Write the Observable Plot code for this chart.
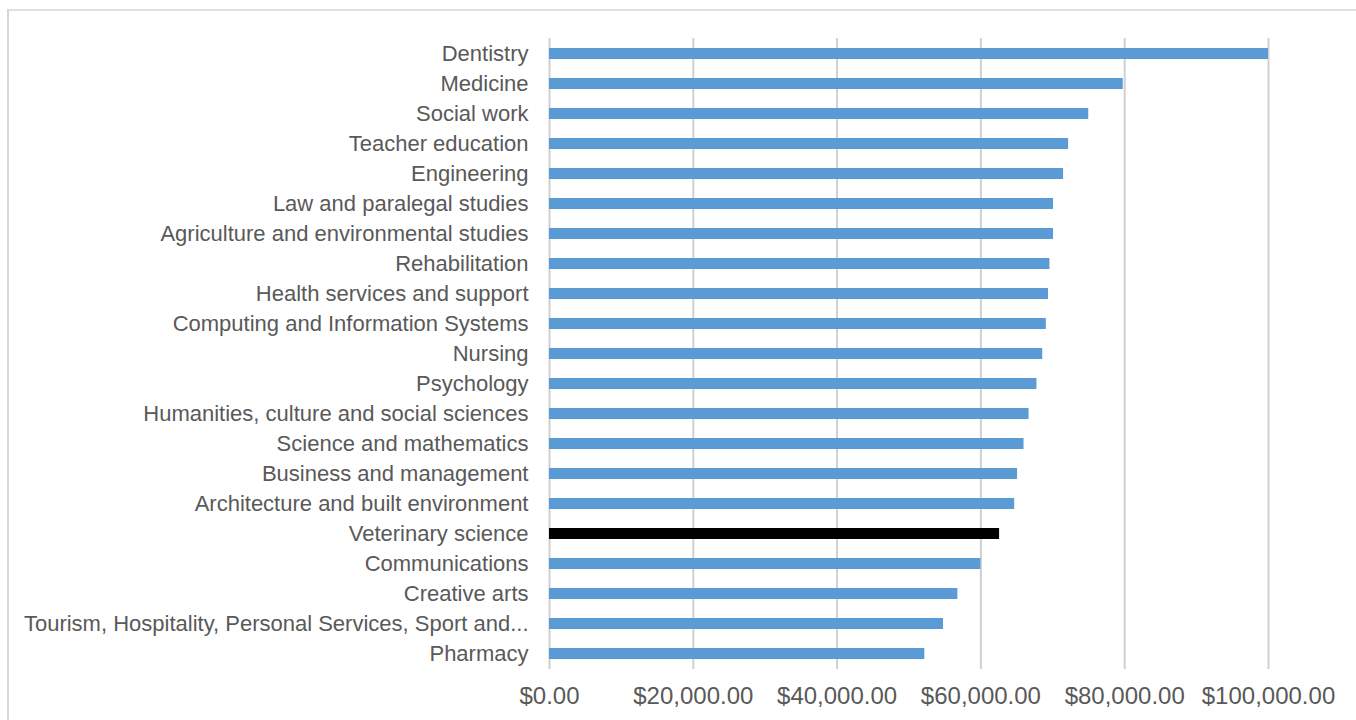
<!DOCTYPE html>
<html>
<head>
<meta charset="utf-8">
<script src="https://cdn.jsdelivr.net/npm/d3@7"></script>
<script src="https://cdn.jsdelivr.net/npm/@observablehq/plot@0.6"></script>
<style>
  html, body { margin: 0; padding: 0; background: #fff; }
  #wrap { position: relative; width: 1356px; height: 720px; overflow: hidden; }
  #frame { position: absolute; left: 7px; top: 9px; width: 1400px; height: 800px;
           border-left: 2px solid #d6d6d6; border-top: 2px solid #e0e0e0; }
  #chart { position: absolute; left: 0; top: 0; }
</style>
</head>
<body>
<div id="wrap">
  <div id="frame"></div>
  <div id="chart"></div>
</div>
<script>
const fields = [
  "Dentistry",
  "Medicine",
  "Social work",
  "Teacher education",
  "Engineering",
  "Law and paralegal studies",
  "Agriculture and environmental studies",
  "Rehabilitation",
  "Health services and support",
  "Computing and Information Systems",
  "Nursing",
  "Psychology",
  "Humanities, culture and social sciences",
  "Science and mathematics",
  "Business and management",
  "Architecture and built environment",
  "Veterinary science",
  "Communications",
  "Creative arts",
  "Tourism, Hospitality, Personal Services, Sport and...",
  "Pharmacy"
];
const salaries = [
  100000, 79800, 75000, 72200, 71500, 70100, 70100, 69600, 69400, 69100,
  68600, 67800, 66700, 66000, 65100, 64700, 62600, 60000, 56800, 54800, 52200
];
const highlighted = "Veterinary science";
const xTicks = [0, 20000, 40000, 60000, 80000, 100000];

const data = fields.map((f, i) => ({field: f, salary: salaries[i]}));
const fmt = d => "$" + d3.format(",.2f")(d);

const chart = Plot.plot({
  width: 1356,
  height: 720,
  marginLeft: 549,
  marginRight: 88,
  marginTop: 38,
  marginBottom: 51,
  style: {fontFamily: "'Liberation Sans', Arial, sans-serif", background: "transparent", color: "#595959"},
  x: {domain: [0, 100000], ticks: xTicks},
  y: {domain: fields, paddingInner: 0.64, paddingOuter: 0.32},
  marks: [
    Plot.gridX(xTicks, {stroke: "#d0d0d0", strokeOpacity: 1, strokeWidth: 2}),
    Plot.barX(data, {x: "salary", y: "field", fill: d => d.field === highlighted ? "#000000" : "#5b9bd5"}),
    Plot.axisX({ticks: xTicks, tickFormat: fmt, tickSize: 0, tickPadding: 17, fontSize: 24, fill: "#595959", label: null}),
    Plot.axisY({tickSize: 0, tickPadding: 21, fontSize: 22, fill: "#595959", label: null})
  ]
});
document.getElementById("chart").appendChild(chart);
</script>
</body>
</html>
